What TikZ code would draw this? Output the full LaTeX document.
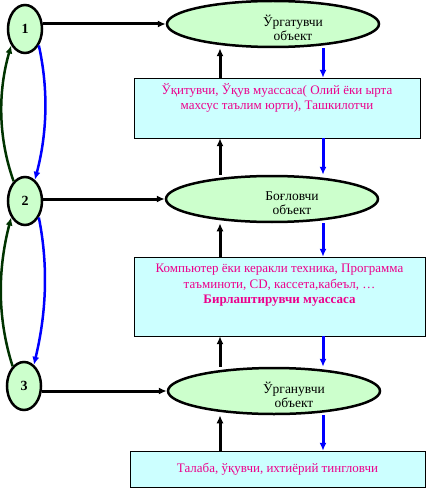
\documentclass[tikz,border=0pt]{standalone}
\usepackage{fontspec}
\setmainfont{Liberation Serif}
\usetikzlibrary{positioning,shapes.geometric,arrows.meta}
\definecolor{objgreen}{HTML}{CCFFCC}
\definecolor{rolecyan}{HTML}{CCFFFF}
\definecolor{loopgreen}{HTML}{003300}
\tikzset{stage/.style = {draw, ellipse, line width=2.5pt, fill=objgreen, minimum width=34pt, minimum height=48pt, inner sep=0pt, font=\bfseries\fontsize{14}{16}\selectfont}}
\tikzset{object/.style = {draw, ellipse, line width=2.5pt, fill=objgreen, minimum width=212pt, minimum height=46pt, inner sep=0pt}}
\tikzset{objtext/.style = {align=center, font=\fontsize{13.5}{14.5}\selectfont, xshift=20pt, yshift=-4pt}}
\tikzset{role/.style = {draw, rectangle, thin, fill=rolecyan, inner sep=0pt}}
\tikzset{roletext/.style = {align=center, text=magenta, font=\fontsize{13}{15.5}\selectfont}}
\tikzset{up/.style = {-{Latex[length=8pt,width=7pt]}, line width=3pt, black}}
\tikzset{down/.style = {-{Latex[length=8pt,width=7pt]}, line width=3pt, blue}}
\tikzset{loop/.style = {-{Latex[length=8pt,width=7pt]}, line width=2.5pt}}

\begin{document}
\begin{tikzpicture}[x=1pt, y=-1pt]
  \useasboundingbox (0,0) rectangle (427,489);

  % stages on the left
  \node [stage] (n1) at (25,29) {1};
  \node [stage] (n2) at (25,201) {2};
  \node [stage] (n3) at (24,386) {3};

  % objects
  \node [object, label={[objtext]center:Ўргатувчи\\объект}] (teach) at (273,24) {};
  \node [object, label={[objtext]center:Боғловчи\\объект}] (bind) at (272,199) {};
  \node [object, label={[objtext]center:Ўрганувчи\\объект}] (learn) at (274,391) {};

  % subjects
  \node [role, minimum width=286pt, minimum height=60pt,
    label={[roletext, anchor=north, yshift=-2pt]north:Ўқитувчи, Ўқув муассаса( Олий ёки ырта\\махсус таълим юрти), Ташкилотчи}] (teacher) at (277,108) {};
  \node [role, minimum width=291pt, minimum height=79pt,
    label={[roletext, anchor=north, yshift=-4pt]north:Компьютер ёки керакли техника, Программа\\таъминоти, CD, кассета,кабеъл, …\\\textbf{Бирлаштирувчи муассаса}}] (means) at (279.5,296.5) {};
  \node [role, roletext, minimum width=295pt, minimum height=36pt] (student) at (277.5,469) {Талаба, ўқувчи, ихтиёрий тингловчи};

  \coordinate (upx) at (220,0);
  \coordinate (downx) at (323,0);

  % stage to object
  \draw[up] (n1.east |- teach.west) -- (teach.west);
  \draw[up] (n2.east |- bind.west) -- (bind.west);
  \draw[up] (n3.east |- learn.west) -- (learn.west);

  % upward chain
  \draw[up] (teacher.north -| upx) -- (teach.south -| upx);
  \draw[up] (bind.north -| upx) -- (teacher.south -| upx);
  \draw[up] (means.north -| upx) -- (bind.south -| upx);
  \draw[up] (learn.north -| upx) -- (means.south -| upx);
  \draw[up] (student.north -| upx) -- (learn.south -| upx);

  % downward chain
  \draw[down] (teach.south -| downx) -- (teacher.north -| downx);
  \draw[down] (teacher.south -| downx) -- (bind.north -| downx);
  \draw[down] (bind.south -| downx) -- (means.north -| downx);
  \draw[down] (means.south -| downx) -- (learn.north -| downx);
  \draw[down] (learn.south -| downx) -- (student.north -| downx);

  % loops between stages
  \draw[loop, loopgreen] (n2.120) .. controls +(-16,-45) and +(-13,45) .. (n1.230);
  \draw[loop, blue] (n1.310) .. controls +(10,45) and +(12,-45) .. (n2.65);
  \draw[loop, loopgreen] (n3.120) .. controls +(-16,-50) and +(-13,50) .. (n2.230);
  \draw[loop, blue] (n2.310) .. controls +(10,50) and +(12,-50) .. (n3.65);
\end{tikzpicture}
\end{document}
